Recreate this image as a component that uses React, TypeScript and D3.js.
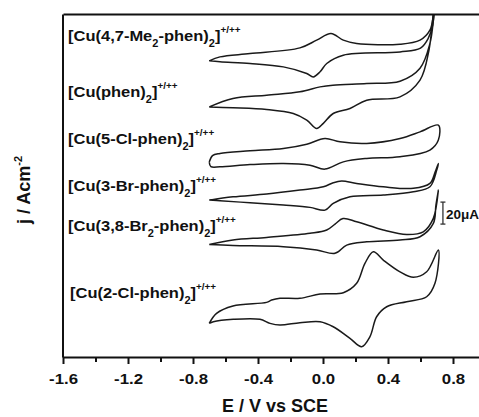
import React, { useEffect, useRef } from "react";
import * as d3 from "d3";

// cyclic voltammograms, E in V vs SCE, j in µA (curves stacked with offsets)
const me2Phen: [number, number][] = [
  [-0.7, 269.4], [-0.634, 273], [-0.449, 276], [-0.142, 281.2], [-0.039, 288.2], [0.049, 294.3],
  [0.125, 288.2], [0.207, 285.2], [0.474, 284.5], [0.597, 288.2], [0.658, 297.3], [0.679, 310.9], [0.69, 330],
  [0.69, 330], [0.675, 302], [0.648, 290], [0.6, 281], [0.474, 277.5], [0.125, 274.5], [0.023, 267],
  [-0.018, 259.4], [-0.06, 254.8], [-0.1, 257.9], [-0.244, 263.9], [-0.449, 267], [-0.634, 268.5], [-0.7, 269.4],
];
const phen: [number, number][] = [
  [-0.7, 227.5], [-0.554, 235.2], [-0.347, 238.2], [-0.142, 241.2], [-0.018, 245.7], [0.061, 247.3],
  [0.269, 248.8], [0.474, 250.9], [0.597, 262.7], [0.658, 285.2], [0.679, 306.4], [0.69, 330],
  [0.69, 330], [0.668, 297], [0.652, 279], [0.597, 251.8], [0.474, 236.6], [0.269, 233.6], [0.166, 226.1],
  [0.063, 221.5], [0.002, 212.5], [-0.039, 207.9], [-0.1, 215.5], [-0.183, 221.5], [-0.347, 225.2],
  [-0.554, 226.8], [-0.7, 227.5],
];
const clPhen5: [number, number][] = [
  [-0.7, 177.3], [-0.68, 183.2], [-0.634, 185.2], [-0.449, 187.5], [-0.244, 189.7], [-0.1, 193.6],
  [0.012, 198.8], [0.105, 195.7], [0.269, 194.3], [0.474, 198.8], [0.597, 204.8], [0.71, 210.9],
  [0.71, 197.3], [0.658, 188.2], [0.474, 182.1], [0.269, 180.6], [0.125, 177.5], [0.012, 170.9],
  [-0.08, 174.5], [-0.244, 176.1], [-0.449, 175], [-0.634, 173], [-0.69, 173.2], [-0.7, 177.3],
];
const brPhen3: [number, number][] = [
  [-0.7, 142.7], [-0.554, 145.7], [-0.347, 148.2], [-0.142, 151.8], [0.002, 154.8], [0.063, 158.5],
  [0.115, 160], [0.207, 157.9], [0.371, 154.8], [0.556, 153.4], [0.658, 157.9], [0.69, 168.2], [0.71, 176.1],
  [0.7, 170], [0.658, 154.8], [0.556, 150.3], [0.371, 147.3], [0.166, 145.7], [0.063, 139.7], [0.012, 133.6],
  [-0.08, 136.1], [-0.244, 138.2], [-0.449, 140.3], [-0.634, 142.1], [-0.7, 142.7],
];
const br2Phen: [number, number][] = [
  [-0.7, 102.3], [-0.554, 106.4], [-0.347, 108.8], [-0.08, 112.5], [0.023, 115.5], [0.074, 120.9],
  [0.123, 125.9], [0.207, 123], [0.371, 115.5], [0.515, 111.5], [0.617, 113.9], [0.679, 126.1], [0.71, 151.8],
  [0.695, 138.2], [0.679, 121.5], [0.597, 109.4], [0.474, 106.4], [0.269, 104.8], [0.146, 101.8], [0.074, 94.3],
  [-0.039, 97.3], [-0.244, 100.3], [-0.554, 101.4], [-0.7, 102.3],
];
const clPhen2: [number, number][] = [
  [-0.7, 30.6], [-0.655, 39.7], [-0.554, 46.4], [-0.347, 49.7], [-0.316, 51.8], [-0.265, 53.4],
  [-0.142, 53.4], [-0.018, 57.3], [0.125, 58.5], [0.207, 67], [0.258, 85.2], [0.31, 95.7], [0.371, 88.2],
  [0.474, 77.5], [0.556, 72.5], [0.638, 77.5], [0.71, 97.3],
  [0.689, 67], [0.638, 54.8], [0.515, 50.3], [0.392, 45.7], [0.33, 36.6], [0.289, 18.5], [0.238, 9.4],
  [0.166, 17], [0.063, 27.5], [-0.018, 32.1], [-0.142, 31.2], [-0.265, 29.1], [-0.326, 30.6],
  [-0.388, 34.3], [-0.552, 34.3], [-0.675, 32.1], [-0.7, 30.6],
];

const complexLabels = [
  "[Cu(4,7-Me_2-phen)_2]^+/++",
  "[Cu(phen)_2]^+/++",
  "[Cu(5-Cl-phen)_2]^+/++",
  "[Cu(3-Br-phen)_2]^+/++",
  "[Cu(3,8-Br_2-phen)_2]^+/++",
  "[Cu(2-Cl-phen)_2]^+/++",
];
const majorTicks = [-1.6, -1.2, -0.8, -0.4, 0.0, 0.4, 0.8];
const minorTicks = [-1.4, -1.0, -0.6, -0.2, 0.2, 0.6, 1.0];
const scaleBarValue = 20; // µA

// layout
const W = 479;
const H = 417;
const labelAnchors: [number, number][] = [
  [-1.569, 287.5], [-1.569, 236.6], [-1.569, 193.6], [-1.569, 151.2], [-1.569, 115], [-1.557, 54.1],
];
const FONT = "'Liberation Sans', Arial, Helvetica, sans-serif";

const x = d3.scaleLinear().domain([-1.6, 1.2]).range([63, 518]);
const y = d3.scaleLinear().domain([0, 312]).range([357, 14]);

const line = d3
  .line<[number, number]>()
  .x((d) => x(d[0]))
  .y((d) => y(d[1]))
  .curve(d3.curveCatmullRom.alpha(0.5));

function Label({ text, at }: { text: string; at: [number, number] }) {
  const parts = text.split(/(_\d|\^.+$)/).filter(Boolean);
  let shift = 0;
  return (
    <g transform={`translate(${x(at[0])},${y(at[1])}) scale(1.1,1)`}>
      <text fontFamily={FONT} fontWeight="bold" fontSize={15} fill="#111">
        {parts.map((p, i) => {
          let target = 0;
          let t = p;
          let size = 15;
          if (p.startsWith("_")) {
            target = 6;
            t = p.slice(1);
            size = 10;
          } else if (p.startsWith("^")) {
            target = -8;
            t = p.slice(1);
            size = 9;
          }
          const dy = target - shift;
          shift = target;
          return (
            <tspan key={i} dy={dy} fontSize={size}>
              {t}
            </tspan>
          );
        })}
      </text>
    </g>
  );
}

export default function App() {
  const axisRef = useRef<SVGGElement>(null);
  const minorRef = useRef<SVGGElement>(null);
  const leftRef = useRef<SVGGElement>(null);
  const topRef = useRef<SVGGElement>(null);

  useEffect(() => {
    const g = d3.select(axisRef.current);
    g.call(
      d3
        .axisBottom(x)
        .tickValues(majorTicks)
        .tickSize(7)
        .tickSizeOuter(0)
        .tickPadding(9)
        .tickFormat((d) => (+d).toFixed(1))
    );
    g.selectAll("path,line").attr("stroke", "#111").attr("stroke-width", 2);
    g.selectAll("text")
      .attr("font-family", FONT)
      .attr("font-weight", "bold")
      .attr("font-size", 15)
      .attr("fill", "#111")
      .attr("transform", "scale(1.12,1)");

    const m = d3.select(minorRef.current);
    m.call(d3.axisBottom(x).tickValues(minorTicks).tickSize(5).tickFormat(() => ""));
    m.select(".domain").remove();
    m.selectAll("line").attr("stroke", "#111").attr("stroke-width", 2);

    const l = d3.select(leftRef.current);
    l.call(d3.axisLeft(y).tickValues([]).tickSizeOuter(0));
    l.selectAll("path").attr("stroke", "#111").attr("stroke-width", 2);

    const t = d3.select(topRef.current);
    t.call(d3.axisTop(x).tickValues([]).tickSizeOuter(0));
    t.selectAll("path").attr("stroke", "#111").attr("stroke-width", 2);
  }, []);

  const curves = [me2Phen, phen, clPhen5, brPhen3, br2Phen, clPhen2];
  const [y0, y1] = y.range();
  const barX = x(0.738);
  const barBottom = 120.9;

  return (
    <svg width={W} height={H} style={{ position: "absolute", left: 0, top: 0, background: "#fff" }}>
      <defs>
        <clipPath id="plot">
          <rect x={62} y={y1} width={470} height={y0 - y1} />
        </clipPath>
      </defs>
      <g clipPath="url(#plot)">
        {curves.map((c, i) => (
          <path key={i} d={line(c) ?? ""} fill="none" stroke="#1a1a1a" strokeWidth={1.5} />
        ))}
      </g>
      <g ref={leftRef} transform={`translate(${x(-1.6) - 0.5},0)`} />
      <g ref={topRef} transform={`translate(0,${y1})`} />
      <g ref={minorRef} transform={`translate(0,${y0})`} />
      <g ref={axisRef} transform={`translate(0,${y0})`} />

      {complexLabels.map((s, i) => (
        <Label key={i} text={s} at={labelAnchors[i]} />
      ))}

      <g stroke="#333" strokeWidth={1.3}>
        <line x1={barX} x2={barX} y1={y(barBottom)} y2={y(barBottom + scaleBarValue)} />
        <line x1={barX - 2.5} x2={barX + 2.5} y1={y(barBottom)} y2={y(barBottom)} />
        <line x1={barX - 2.5} x2={barX + 2.5} y1={y(barBottom + scaleBarValue)} y2={y(barBottom + scaleBarValue)} />
      </g>
      <text
        x={barX + 3}
        y={y(barBottom + 5)}
        fontFamily={FONT}
        fontWeight="bold"
        fontSize={13.5}
        fill="#111"
      >
        20μA
      </text>

      <text
        x={275}
        y={412}
        textAnchor="middle"
        fontFamily={FONT}
        fontWeight="bold"
        fontSize={18}
        fill="#111"
      >
        E / V vs SCE
      </text>
      <text
        transform="translate(30,190) rotate(-90)"
        textAnchor="middle"
        fontFamily={FONT}
        fontWeight="bold"
        fontSize={18}
        fill="#111"
      >
        j / Acm<tspan dy={-8} fontSize={11}>-2</tspan>
      </text>
    </svg>
  );
}
